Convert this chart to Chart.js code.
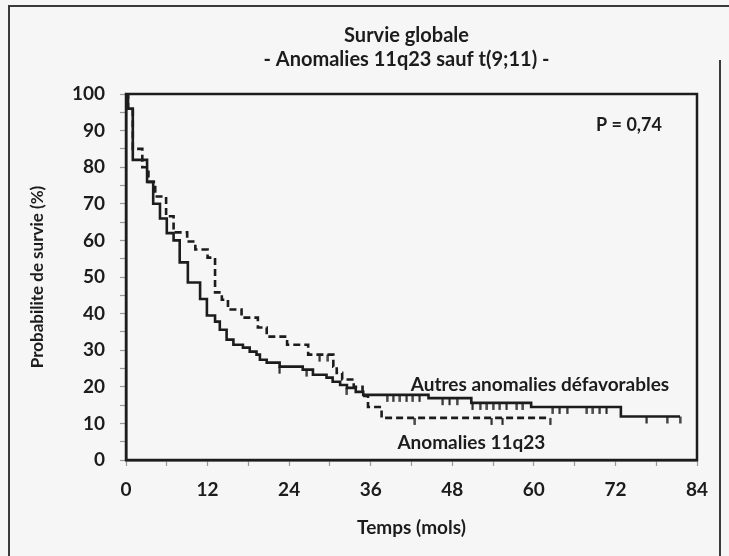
<!DOCTYPE html>
<html>
<head>
<meta charset="utf-8">
<script src="https://cdn.jsdelivr.net/npm/chart.js@4.4.1/dist/chart.umd.min.js"></script>
<style>
  html, body { margin: 0; padding: 0; background: #f6f6f6; }
  #wrap { position: relative; width: 729px; height: 556px; }
</style>
</head>
<body>
<div id="wrap"><canvas id="km" width="729" height="556"></canvas></div>
<script>
// Kaplan-Meier steps: time (months) and survival (%) after the drop
var autresTimes = [0, 0.3, 1.0, 3.1, 4.0, 5.0, 6.0, 7.0, 7.9, 9.1, 10.9, 11.9, 13.1, 13.8, 14.8, 15.8, 17.2, 18.2, 19.2, 19.7, 20.7, 22.6, 26.0, 27.5, 29.5, 30.4, 31.5, 32.5, 33.8, 34.9, 44.5, 50.8, 59.6, 72.8, 81.5];
var autresSurv  = [100, 96, 82, 76, 70, 66, 62, 60, 54, 48.5, 44, 39.5, 37.8, 35.6, 32.9, 31.5, 30.7, 29.6, 28.8, 27.4, 26.6, 25.5, 24.7, 23.3, 22.5, 21.4, 20.5, 19.7, 18.6, 17.8, 16.9, 15.6, 14.5, 11.9, 11.9];
var autresCensor = [22.6, 26.6, 32.5, 38.4, 39.3, 40.3, 41.3, 42.2, 43.2, 46.6, 47.6, 48.7, 51.0, 52.1, 53.1, 54.0, 55.0, 56.0, 57.5, 58.4, 62.8, 63.8, 64.9, 67.8, 68.7, 69.7, 70.7, 76.6, 79.6, 81.5];

var anomTimes = [0, 0.3, 1.0, 2.4, 3.3, 4.3, 5.9, 7.0, 9.0, 10.2, 12.0, 13.1, 14.1, 15.0, 17.0, 19.4, 20.7, 23.7, 26.8, 30.5, 31.0, 31.8, 33.5, 34.8, 35.6, 37.6, 62.4];
var anomSurv  = [100, 96, 85, 80, 76, 72, 66.6, 62.2, 59.7, 57.5, 55.3, 45.8, 43.8, 41.1, 38.9, 36.2, 33.7, 31.5, 28.8, 25.5, 23.8, 22, 20, 17.5, 14.5, 11.5, 11.5];
var anomCensor = [28.5, 29.7, 42.5, 53.8, 55.4, 62.4];

var xTicks = [0, 12, 24, 36, 48, 60, 72, 84];
var yTicks = [0, 10, 20, 30, 40, 50, 60, 70, 80, 90, 100];

var titleLines = ["Survie globale", "- Anomalies 11q23 sauf t(9;11) -"];
var pText = "P = 0,74";
var labelAutres = "Autres anomalies défavorables";
var labelAnom = "Anomalies 11q23";

var FONT = "Lato, 'Open Sans', sans-serif";
var INK = "#1c1c1c";

function toPoints(times, surv) {
    var pts = [];
    for (var i = 0; i < times.length; i++) pts.push({x: times[i], y: surv[i]});
    return pts;
}

function survAt(times, surv, t) {
    var s = surv[0];
    for (var i = 0; i < times.length; i++) {
        if (times[i] <= t) s = surv[i];
    }
    return s;
}

function censorPoints(times, surv, cens) {
    return cens.map(function (t) { return {x: t, y: survAt(times, surv, t)}; });
}

// small downward tick used as censor mark
var tick = document.createElement("canvas");
tick.width = 3; tick.height = 16;
var tctx = tick.getContext("2d");
tctx.strokeStyle = INK;
tctx.lineWidth = 2;
tctx.beginPath();
tctx.moveTo(1.5, 8);
tctx.lineTo(1.5, 15);
tctx.stroke();

var decor = {
    id: "decor",
    beforeDraw: function (chart) {
        var c = chart.ctx;
        c.save();
        c.fillStyle = "#f6f6f6";
        c.fillRect(0, 0, chart.width, chart.height);
        c.strokeStyle = "#3a3a3a";
        c.lineWidth = 2;
        c.beginPath();
        c.moveTo(9, chart.height);
        c.lineTo(9, 6);
        c.lineTo(chart.width, 6);
        c.moveTo(720, 60);
        c.lineTo(720, chart.height);
        c.stroke();
        c.restore();
    },
    afterDraw: function (chart) {
        var c = chart.ctx;
        var a = chart.chartArea;
        var xs = chart.scales.x, ys = chart.scales.y;
        c.save();
        c.strokeStyle = INK;
        c.lineWidth = 2.5;
        c.strokeRect(a.left, a.top, a.right - a.left, a.bottom - a.top);

        c.fillStyle = INK;
        c.textAlign = "center";
        c.textBaseline = "middle";
        c.font = "bold 20px " + FONT;
        var cx = (a.left + a.right) / 2 - 5;
        c.fillText(titleLines[0], cx, 36);
        c.fillText(titleLines[1], cx, 60);

        c.font = "bold 18px " + FONT;
        c.fillText(pText, xs.getPixelForValue(74), ys.getPixelForValue(91.5));

        c.font = "bold 19px " + FONT;
        c.fillText(labelAutres, xs.getPixelForValue(60.9), ys.getPixelForValue(20.5));
        c.fillText(labelAnom, xs.getPixelForValue(50.8), ys.getPixelForValue(4.6));
        c.restore();
    }
};

var ctx = document.getElementById("km");

new Chart(ctx, {
    type: "line",
    data: {
        datasets: [
            {
                label: labelAutres,
                data: toPoints(autresTimes, autresSurv),
                stepped: "before",
                borderColor: INK,
                borderWidth: 2.6,
                pointRadius: 0,
                fill: false
            },
            {
                label: labelAnom,
                data: toPoints(anomTimes, anomSurv),
                stepped: "before",
                borderColor: INK,
                borderWidth: 2.6,
                borderDash: [7, 4],
                pointRadius: 0,
                fill: false
            },
            {
                type: "scatter",
                data: censorPoints(autresTimes, autresSurv, autresCensor),
                pointStyle: tick,
                pointRadius: 4
            },
            {
                type: "scatter",
                data: censorPoints(anomTimes, anomSurv, anomCensor),
                pointStyle: tick,
                pointRadius: 4
            }
        ]
    },
    options: {
        responsive: false,
        animation: false,
        layout: { padding: { left: 20, right: 32, top: 94, bottom: 14 } },
        plugins: {
            legend: { display: false },
            tooltip: { enabled: false },
            title: { display: false }
        },
        scales: {
            x: {
                type: "linear",
                min: 0,
                max: 84,
                afterFit: function (s) { s.height = 82; },
                border: { display: true, color: INK, width: 2.5 },
                grid: { drawOnChartArea: false, tickLength: 6, color: "#9a9a9a", tickWidth: 1.2 },
                ticks: {
                    stepSize: 6,
                    autoSkip: false,
                    maxRotation: 0,
                    padding: 12,
                    color: INK,
                    font: { family: FONT, size: 19, weight: "bold" },
                    callback: function (v) { return xTicks.indexOf(v) >= 0 ? String(v) : ""; }
                },
                title: {
                    display: true,
                    text: "Temps (mols)",
                    color: INK,
                    font: { family: FONT, size: 19, weight: "bold" },
                    padding: { top: 0, bottom: 3 }
                }
            },
            y: {
                min: 0,
                max: 100,
                afterFit: function (s) { s.width = 106; },
                border: { display: true, color: INK, width: 2.5 },
                grid: { drawOnChartArea: false, tickLength: 6, color: "#9a9a9a", tickWidth: 1.2 },
                ticks: {
                    stepSize: 5,
                    autoSkip: false,
                    padding: 15,
                    color: INK,
                    font: { family: FONT, size: 19, weight: "bold" },
                    callback: function (v) { return yTicks.indexOf(v) >= 0 ? String(v) : ""; }
                },
                title: {
                    display: true,
                    text: "Probabilite de survie (%)",
                    color: INK,
                    font: { family: FONT, size: 17, weight: "bold" },
                    padding: { top: 7, bottom: 0 }
                }
            }
        }
    },
    plugins: [decor]
});
</script>
</body>
</html>
